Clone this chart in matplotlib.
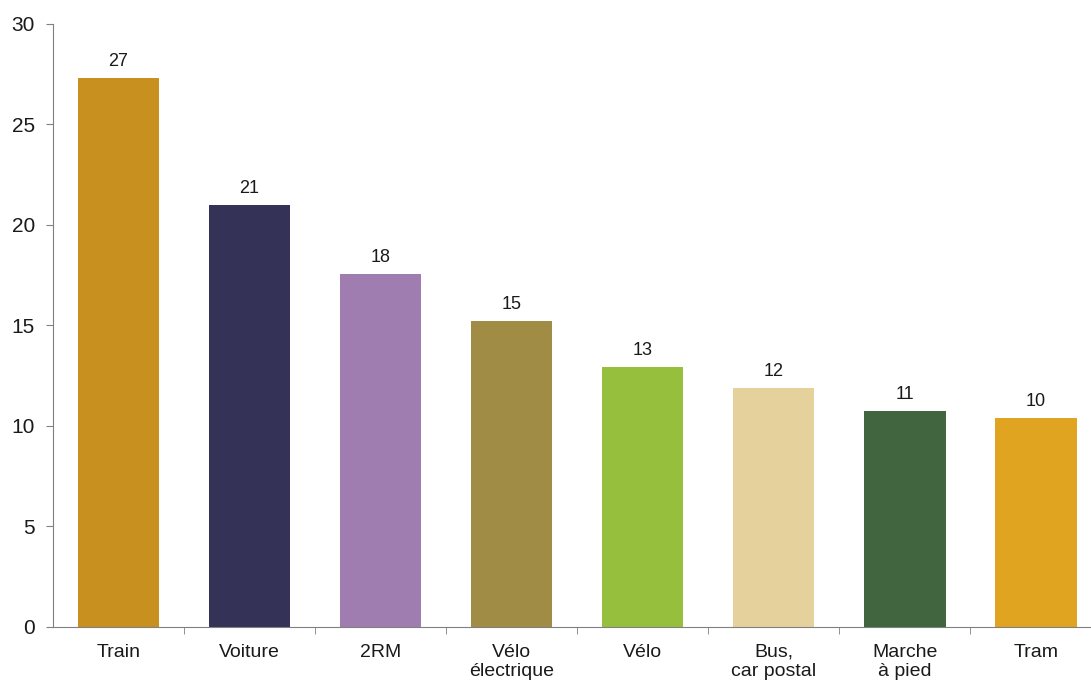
import matplotlib.pyplot as plt
import numpy as np

categories = ["Train", "Voiture", "2RM", "Vélo\nélectrique", "Vélo",
              "Bus,\ncar postal", "Marche\nà pied", "Tram"]
values = [27.3, 21.0, 17.55, 15.2, 12.95, 11.9, 10.75, 10.4]
labels = ["27", "21", "18", "15", "13", "12", "11", "10"]
colors = ["#C8901E", "#343256", "#A07DB0", "#A08C44", "#97BF3E",
          "#E5D19C", "#40653F", "#E0A420"]

plt.rcParams["font.family"] = ["Liberation Sans", "DejaVu Sans"]

fig = plt.figure(figsize=(10.91, 6.80), dpi=100)
ax = fig.add_axes([0.0486, 0.078, 0.961, 0.887])

x = np.arange(len(categories))
bars = ax.bar(x, values, width=0.62, color=colors)
for b, lab in zip(bars, labels):
    ax.text(b.get_x() + b.get_width() / 2, b.get_height() + 0.4, lab,
            ha="center", va="bottom", fontsize=13, color="#1a1a1a")

ax.set_xlim(-0.5, len(categories) - 0.5)
ax.set_ylim(0, 30)
ax.set_yticks(range(0, 31, 5))
ax.set_xticks(x)
ax.set_xticklabels(categories, fontsize=14, color="#1a1a1a", linespacing=1.15)
ax.set_xticks(np.arange(0.5, len(categories) - 0.5, 1), minor=True)
ax.tick_params(axis="x", which="major", length=0, pad=12)
ax.tick_params(axis="x", which="minor", length=5, color="#808080")
ax.tick_params(axis="y", length=5, color="#808080", labelsize=15,
               labelcolor="#1a1a1a", pad=8)

for s in ["top", "right"]:
    ax.spines[s].set_visible(False)
for s in ["left", "bottom"]:
    ax.spines[s].set_color("#808080")

fig.savefig("out.png", dpi=100)
